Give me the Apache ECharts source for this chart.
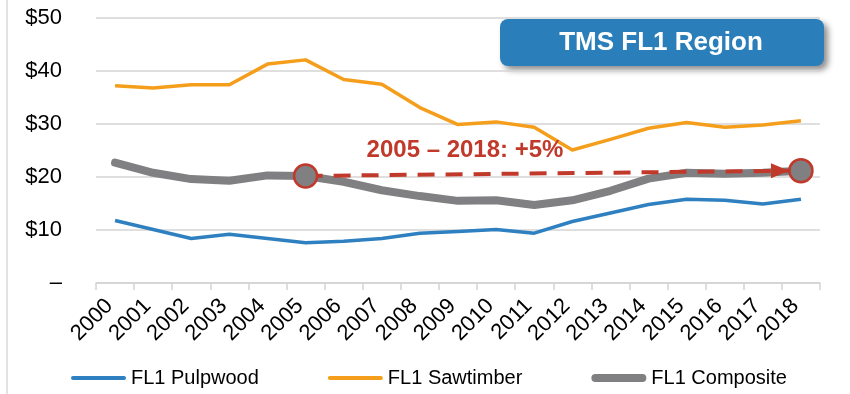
<!DOCTYPE html>
<html>
<head>
<meta charset="utf-8">
<script src="https://cdn.jsdelivr.net/npm/echarts@6/dist/echarts.min.js"></script>
<style>
  html, body { margin: 0; padding: 0; background: #ffffff; }
  #chart { width: 850px; height: 394px; }
</style>
</head>
<body>
<div id="chart"></div>
<script>
// Timber price series, $ per ton, FL1 region
const years = ['2000','2001','2002','2003','2004','2005','2006','2007','2008','2009',
               '2010','2011','2012','2013','2014','2015','2016','2017','2018'];
const pulpwood   = [11.8, 10.1, 8.4, 9.2, 8.4, 7.6, 7.9, 8.4, 9.4, 9.7,
                    10.1, 9.4, 11.6, 13.2, 14.8, 15.8, 15.6, 14.9, 15.8];
const sawtimber  = [37.2, 36.8, 37.4, 37.4, 41.3, 42.1, 38.4, 37.5, 33.1, 29.9,
                    30.4, 29.4, 25.1, 27.1, 29.2, 30.3, 29.4, 29.8, 30.6];
const composite  = [22.7, 20.8, 19.6, 19.3, 20.3, 20.2, 19.1, 17.5, 16.4, 15.5,
                    15.6, 14.7, 15.6, 17.4, 19.7, 20.8, 20.6, 20.8, 21.2];
const yTicks = [0, 10, 20, 30, 40, 50];
const seriesNames = ['FL1 Pulpwood', 'FL1 Sawtimber', 'FL1 Composite'];
const seriesColors = ['#2e80c0', '#f59e1b', '#808083'];
const trendFrom = '2005';
const trendTo = '2018';

const iFrom = years.indexOf(trendFrom);
const iTo = years.indexOf(trendTo);
const pct = Math.round((composite[iTo] / composite[iFrom] - 1) * 100);
const trendText = trendFrom + ' \u2013 ' + trendTo + ': ' + (pct >= 0 ? '+' : '') + pct + '%';

const RED = '#c0392b';
const FONT = '"Liberation Sans", Arial, sans-serif';

// legend swatches: thin bars for the two price lines, a thick rounded bar for the composite
const thinBar = 'path://M2,0 L53,0 A2,2 0 0 1 53,4 L2,4 A2,2 0 0 1 2,0 Z';
const thickBar = 'path://M4,0 L51,0 A4,4 0 0 1 51,8 L4,8 A4,4 0 0 1 4,0 Z';
const legendIcons = [thinBar, thinBar, thickBar];

const chart = echarts.init(document.getElementById('chart'), null, { renderer: 'canvas' });

chart.setOption({
  animation: false,
  backgroundColor: '#ffffff',
  textStyle: { fontFamily: FONT },
  grid: { left: 96, right: 30, top: 18, bottom: 111, containLabel: false, outerBoundsMode: 'none' },
  legend: {
    data: seriesNames.map((n, i) => ({
      name: n, icon: legendIcons[i],
      itemStyle: { color: seriesColors[i], borderWidth: 0 }
    })),
    left: 66,
    top: 363,
    itemWidth: 55,
    itemHeight: 14,
    itemGap: 69,
    textStyle: { fontSize: 20, color: '#000', fontFamily: FONT }
  },
  xAxis: {
    type: 'category',
    data: years,
    boundaryGap: true,
    axisLine: { lineStyle: { color: '#d4d4d4', width: 1.5 } },
    axisTick: { show: true, length: 7, lineStyle: { color: '#d4d4d4', width: 1.5 } },
    axisLabel: {
      rotate: 45, fontSize: 22, color: '#000', margin: 14, interval: 0, fontFamily: FONT,
      padding: [20, 8, 0, 0]
    }
  },
  yAxis: {
    type: 'value',
    min: yTicks[0],
    max: yTicks[yTicks.length - 1],
    interval: yTicks[1] - yTicks[0],
    axisLine: { show: false },
    axisTick: { show: false },
    splitLine: { lineStyle: { color: '#d4d4d4', width: 1.5 } },
    axisLabel: {
      fontSize: 22, color: '#000', margin: 34, fontFamily: FONT,
      formatter: v => v === 0 ? '\u2013' : '$' + v
    }
  },
  series: [
    {
      name: seriesNames[0], type: 'line', data: pulpwood, symbol: 'none',
      color: seriesColors[0],
      lineStyle: { width: 3.5, color: seriesColors[0], join: 'round' }, z: 3
    },
    {
      name: seriesNames[1], type: 'line', data: sawtimber, symbol: 'none',
      color: seriesColors[1],
      lineStyle: { width: 3.5, color: seriesColors[1], join: 'round' }, z: 3
    },
    {
      name: seriesNames[2], type: 'line', data: composite, symbol: 'none',
      color: seriesColors[2],
      lineStyle: { width: 8, color: seriesColors[2], join: 'round', cap: 'round' }, z: 2,
      markLine: {
        silent: true, z: 4,
        symbol: ['none', 'none'],
        label: { show: false },
        lineStyle: { color: RED, width: 4, type: [17, 11], opacity: 1 },
        emphasis: { disabled: true },
        data: [[
          { coord: [iFrom, composite[iFrom]] },
          { coord: [iTo, composite[iTo]] }
        ]]
      },
      markPoint: {
        silent: true, z: 6,
        label: { show: false },
        data: [
          {
            // arrow head, tip resting on the edge of the end marker
            coord: [iTo, composite[iTo]],
            symbol: 'triangle', symbolSize: [15, 18], symbolRotate: -90,
            symbolOffset: [-21, 0],
            itemStyle: { color: RED, borderWidth: 0 }
          },
          {
            coord: [iFrom, composite[iFrom]],
            symbol: 'circle', symbolSize: 23,
            itemStyle: { color: seriesColors[2], borderColor: RED, borderWidth: 2.5 }
          },
          {
            coord: [iTo, composite[iTo]],
            symbol: 'circle', symbolSize: 23,
            itemStyle: { color: seriesColors[2], borderColor: RED, borderWidth: 2.5 }
          }
        ]
      }
    }
  ],
  graphic: [
    {
      type: 'line', silent: true,
      shape: { x1: 7, y1: 0, x2: 7, y2: 394 },
      style: { stroke: '#d9d9d9', lineWidth: 1.5 }
    },
    {
      type: 'group', left: 500, top: 19, z: 10,
      children: [
        {
          type: 'rect',
          shape: { x: 0, y: 0, width: 324, height: 47, r: 8 },
          style: {
            fill: '#2a7fba',
            shadowBlur: 6, shadowOffsetX: 4, shadowOffsetY: 4,
            shadowColor: 'rgba(0,0,0,0.45)'
          }
        },
        {
          type: 'text',
          x: 161, y: 24,
          style: {
            text: 'TMS FL1 Region', fill: '#ffffff',
            font: 'bold 26px ' + FONT,
            textAlign: 'center', textVerticalAlign: 'middle'
          }
        }
      ]
    },
    {
      type: 'text', z: 10,
      x: 465, y: 150,
      style: {
        text: trendText, fill: RED,
        font: 'bold 24px ' + FONT,
        textAlign: 'center', textVerticalAlign: 'middle'
      }
    }
  ]
});
</script>
</body>
</html>
